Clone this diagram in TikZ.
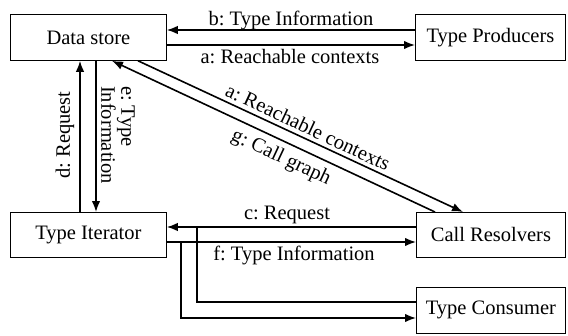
\documentclass[tikz,border=0pt]{standalone}
\usepackage{fontspec}
\setmainfont{Liberation Serif}
\usetikzlibrary{arrows.meta,calc}
\frenchspacing
\begin{document}
\begin{tikzpicture}[x=1pt,y=-1pt,
  txt/.style={font=\fontsize{20.5}{18.5}\selectfont},
  box/.style={txt,draw,line width=0.8pt,minimum height=46pt,inner sep=0pt,anchor=north west},
  flow/.style={line width=1.6pt,-{Latex[length=11pt,width=8.5pt]}},
  wire/.style={line width=1.6pt},
  lbl/.style={txt,inner sep=0pt}]
\useasboundingbox (0,0) rectangle (568,335);

% components
\node[box,minimum width=156pt] (ds) at (10,14)  {Data store};
\node[box,minimum width=150pt] (tp) at (415,14) {Type Producers};
\node[box,minimum width=156pt,minimum height=45pt] (ti) at (10,212) {Type Iterator};
\node[box,minimum width=149pt,minimum height=45pt] (cr) at (416,212) {Call Resolvers};
\node[box,minimum width=149pt] (tc) at (416,287) {Type Consumer};

% lanes of the connectors
\coordinate (bY) at (0,30);
\coordinate (aY) at (0,45);
\coordinate (dX) at (80,0);
\coordinate (eX) at (96,0);
\coordinate (gX) at (112,0);
\coordinate (aX) at (138,0);
\coordinate (gX2) at (435,0);
\coordinate (aX2) at (463,0);
\coordinate (cY) at (0,227);
\coordinate (fY) at (0,242);
\coordinate (cJ) at (197,227);
\coordinate (fJ) at (181,242);
\coordinate (cY2) at (0,302);
\coordinate (fY2) at (0,318);

% data store <-> type producers
\draw[flow] (tp.west |- bY) -- (ds.east |- bY);
\draw[flow] (ds.east |- aY) -- (tp.west |- aY);
\node[lbl,anchor=base] (lb) at (291,25.5) {b: Type Information};
\node[lbl,anchor=base] (la) at (290,63.5) {a: Reachable contexts};

% data store <-> type iterator
\draw[flow] (ti.north -| dX) -- (ds.south -| dX);
\draw[flow] (ds.south -| eX) -- (ti.north -| eX);
\node[lbl,rotate=90] (ld) at (65,135) {d: Request};
\node[lbl,rotate=-90,align=left] (le) at (118,135) {e: Type\\Information};

% data store <-> call resolvers
\draw[flow] (ds.south -| aX) -- (cr.north -| aX2);
\draw[flow] (cr.north -| gX2) -- (ds.south -| gX);
\node[lbl,rotate=-25.07] (la2) at (308,127) {a: Reachable contexts};
\node[lbl,rotate=-25.07] (lg) at (281,158) {g: Call graph};

% type iterator <-> call resolvers / type consumer
\draw[flow] (cr.west |- cY) -- (ti.east |- cY);
\draw[flow] (ti.east |- fY) -- (cr.west |- fY);
\draw[wire] (tc.west |- cY2) -| (cJ);
\draw[flow] (fJ) |- (tc.west |- fY2);
\node[lbl,anchor=base] (lc) at (287,219.5) {c: Request};
\node[lbl,anchor=base] (lf) at (294,260) {f: Type Information};
\end{tikzpicture}
\end{document}
